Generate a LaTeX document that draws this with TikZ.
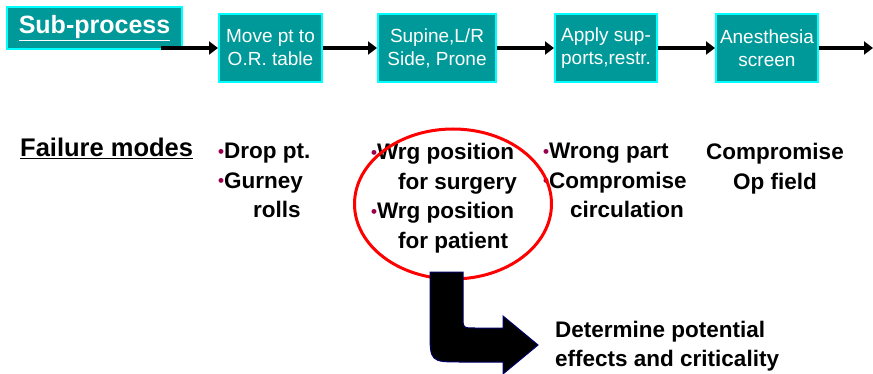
\documentclass[tikz,border=0pt]{standalone}
\usepackage{fontspec}
\setmainfont{Liberation Sans}
\usetikzlibrary{arrows.meta, shapes.geometric}
\definecolor{boxfill}{RGB}{0,153,153}
\definecolor{boxline}{RGB}{0,255,255}
\definecolor{dotc}{RGB}{153,0,76}
\definecolor{navy}{RGB}{0,0,102}
\newcommand{\fmdot}{{\color{dotc}\raisebox{1.5pt}{\fontsize{17}{17}\selectfont•}}}
\tikzset{ p/.style = { rectangle
                     , draw = boxline
                     , fill = boxfill
                     , line width = 2pt
                     , text = white
                     , align = center
                     , inner sep = 0pt
                     , minimum height = 68pt
                     , font = \fontsize{19}{23}\selectfont
                     },
          f/.style = { inner sep = 0pt
                     , anchor = north west
                     , align = left
                     , font = \fontsize{22.5}{29.5}\selectfont\bfseries
                     },
          link/.style = { line width = 4.5pt
                        , -{Triangle[length=9pt, width=13pt]}
                        }
        }
\begin{document}
\begin{tikzpicture}[x=1pt, y=-1pt]
    \useasboundingbox (0,0) rectangle (873,374);
    % process row
    \node[p, minimum width=175pt, minimum height=42pt, line width=1.5pt,
          font=\fontsize{25}{25}\selectfont\bfseries] (sub) at (94.5,28) {\underline{Sub-process}};
    \node[p, minimum width=103pt] (move) at (270.5,48) {Move pt to\\O.R. table};
    \node[p, minimum width=118pt] (pos)  at (437,48)   {Supine,L/R\\Side, Prone};
    \node[p, minimum width=102pt] (supp) at (606,48)   {Apply sup-\\ports,restr.};
    \node[p, minimum width=102pt] (anes) at (767,48)   {Anesthesia\\screen};
    \coordinate (start) at (161,48);
    \coordinate (exit)  at (873,48);
    \draw[link] (start) -- (move);
    \draw[link] (move) -- (pos);
    \draw[link] (pos) -- (supp);
    \draw[link] (supp) -- (anes);
    \draw[link] (anes) -- (exit);
    % failure modes
    \node[f, anchor=base west, font=\fontsize{25.5}{25.5}\selectfont\bfseries] (fail) at (20,157) {\underline{Failure modes}};
    \node[f] (drop) at (218,143) {\fmdot Drop pt.\\\fmdot Gurney\\\hspace*{35pt}rolls};
    \node[f] (wrg)  at (371,143) {\fmdot Wrg position\\\hspace*{27pt}for surgery\\\fmdot Wrg position\\\hspace*{27pt}for patient};
    \node[f] (part) at (543,143) {\fmdot Wrong part\\\fmdot Compromise\\\hspace*{27pt}circulation};
    \node[f, align=center, anchor=north] (field) at (775,143) {Compromise\\Op field};
    \node[ellipse, draw=red, line width=3pt, minimum width=197pt, minimum height=150pt] (ring) at (453,204) {};
    % bent arrow
    \filldraw[fill=black, draw=navy, line width=1pt]
        (430,272) -- (463,272) -- (463,316) .. controls (463,328) .. (475,328)
        -- (503,328) -- (503,316) -- (538,345) -- (503,374) -- (503,362)
        -- (462,362) .. controls (430,362) .. (430,330) -- cycle;
    \node[f, font=\fontsize{22.5}{29}\selectfont\bfseries] (det) at (555,321) {Determine potential\\effects and criticality};
\end{tikzpicture}
\end{document}
